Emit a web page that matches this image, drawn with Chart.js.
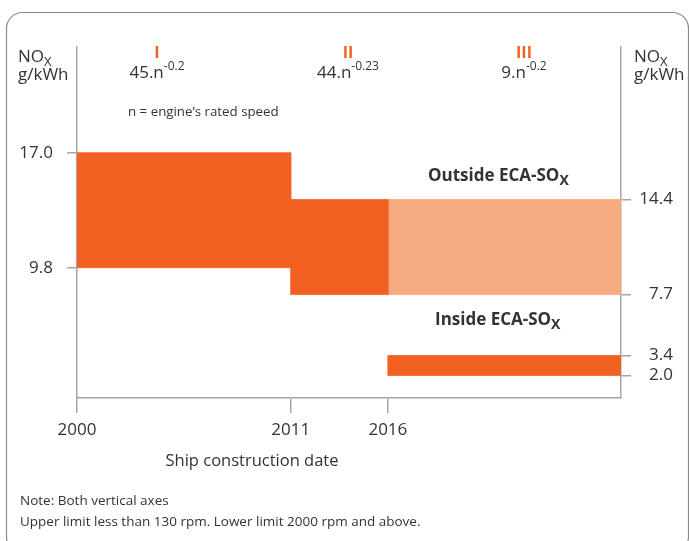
<!DOCTYPE html>
<html>
<head>
<meta charset="utf-8">
<script src="https://cdn.jsdelivr.net/npm/chart.js@4.4.1/dist/chart.umd.min.js"></script>
<style>
  html, body { margin: 0; padding: 0; background: #fff; }
</style>
</head>
<body>
<canvas id="nox" width="689" height="541"></canvas>
<script>
// IMO NOx limits by tier
const tierNames = ['I', 'II', 'III'];
const tierFactor = ['45.n', '44.n', '9.n'];
const tierExp = ['-0.2', '-0.23', '-0.2'];
const tierStart = [2000, 2011, 2016];
const outsideHigh = [17.0, 14.4, 14.4];
const outsideLow = [9.8, 7.7, 7.7];
const insideHigh = [3.4];
const insideLow = [2.0];
const openEnd = 2028;        // bars run on to the right axis
const xTicks = [2000, 2011, 2016];
const leftTicks = [17.0, 9.8];
const rightTicks = [14.4, 7.7, 3.4, 2.0];

const ORANGE = '#f26122';
const LIGHT = '#f6aa7f';
const TEXT = '#333333';
const AXIS = '#a6a6a6';
const FONT = "'Open Sans', sans-serif";

// closed rectangle, filled as a shape
function rect(x0, x1, hi, lo, color, axis) {
  return {
    data: [{ x: x0, y: hi }, { x: x1, y: hi }, { x: x1, y: lo }, { x: x0, y: lo }, { x: x0, y: hi }],
    yAxisID: axis,
    fill: 'shape',
    backgroundColor: color,
    borderColor: color,
    borderWidth: 0.8,
    pointRadius: 0,
    tension: 0
  };
}

const datasets = [
  rect(tierStart[0], tierStart[1], outsideHigh[0], outsideLow[0], ORANGE, 'yL'),
  rect(tierStart[1], tierStart[2], outsideHigh[1], outsideLow[1], ORANGE, 'yR'),
  rect(tierStart[2], openEnd, outsideHigh[2], outsideLow[2], LIGHT, 'yR'),
  rect(tierStart[2], openEnd, insideHigh[0], insideLow[0], ORANGE, 'yR')
];

// draw a run of text pieces (for sub/superscripts)
function rich(ctx, parts, x, y, align) {
  let w = 0;
  parts.forEach(p => { ctx.font = p.font; w += ctx.measureText(p.t).width; });
  let cx = align === 'center' ? x - w / 2 : x;
  ctx.textAlign = 'left';
  ctx.textBaseline = 'alphabetic';
  parts.forEach(p => {
    ctx.font = p.font;
    ctx.fillStyle = p.color || TEXT;
    ctx.fillText(p.t, cx, y + (p.dy || 0));
    cx += ctx.measureText(p.t).width;
  });
}

const noteLines = ['Note: Both vertical axes',
  'Upper limit less than 130 rpm. Lower limit 2000 rpm and above.'];

const decor = {
  id: 'decor',
  beforeDraw(chart) {
    const ctx = chart.ctx;
    ctx.save();
    ctx.strokeStyle = '#8a8a8a';
    ctx.lineWidth = 1.2;
    ctx.beginPath();
    ctx.roundRect(6.5, 12.5, 682, 540, 16);
    ctx.stroke();
    ctx.restore();
  },
  afterDraw(chart) {
    const ctx = chart.ctx;
    ctx.save();
    const big = '17px ' + FONT;
    const sub = '13px ' + FONT;
    const sup = '12px ' + FONT;

    // unit labels on both sides
    [18, 634].forEach(x => {
      rich(ctx, [{ t: 'NO', font: big }, { t: 'X', font: sub, dy: 4 }], x, 62, 'left');
      rich(ctx, [{ t: 'g/kWh', font: big }], x, 80, 'left');
    });

    // tier headings
    const tierX = [157, 348, 524];
    tierNames.forEach((n, i) => {
      rich(ctx, [{ t: n, font: 'bold 16px ' + FONT, color: ORANGE }], tierX[i], 58, 'center');
      rich(ctx, [{ t: tierFactor[i], font: big }, { t: tierExp[i], font: sup, dy: -8 }], tierX[i], 78, 'center');
    });
    rich(ctx, [{ t: 'n = engine\u2019s rated speed', font: '13.3px ' + FONT }], 128, 116, 'left');

    // region labels
    const bold = 'bold 17px ' + FONT;
    const bsub = 'bold 14px ' + FONT;
    rich(ctx, [{ t: 'Outside ECA-SO', font: bold }, { t: 'X', font: bsub, dy: 4 }], 428, 181, 'left');
    rich(ctx, [{ t: 'Inside ECA-SO', font: bold }, { t: 'X', font: bsub, dy: 4 }], 435, 325, 'left');

    // axis title
    rich(ctx, [{ t: 'Ship construction date', font: '16.5px ' + FONT }], 252, 466, 'center');

    // notes
    const note = '13.5px ' + FONT;
    rich(ctx, [{ t: noteLines[0], font: note }], 20, 505, 'left');
    rich(ctx, [{ t: noteLines[1], font: note }], 20, 526, 'left');
    ctx.restore();
  }
};

function fixTicks(values) {
  return scale => { scale.ticks = values.map(v => ({ value: v })); };
}

new Chart(document.getElementById('nox'), {
  type: 'line',
  data: { datasets: datasets },
  plugins: [decor],
  options: {
    responsive: false,
    animation: false,
    events: [],
    layout: { padding: { top: 47, right: 16, left: 0, bottom: 0 } },
    plugins: { legend: { display: false }, tooltip: { enabled: false } },
    scales: {
      x: {
        type: 'linear',
        min: 2000,
        max: openEnd,
        afterBuildTicks: fixTicks(xTicks),
        afterFit: s => { s.height = 143; },
        ticks: { color: TEXT, font: { family: FONT, size: 17 }, padding: 7, maxRotation: 0, autoSkip: false,
                 callback: v => String(v) },
        grid: { drawOnChartArea: false, tickLength: 15, color: AXIS, lineWidth: 1.5 },
        border: { color: AXIS, width: 1.5 }
      },
      yL: {
        type: 'linear',
        position: 'left',
        min: 1.64,
        max: 23.62,
        afterBuildTicks: fixTicks(leftTicks),
        afterFit: s => { s.width = 77; },
        ticks: { color: TEXT, font: { family: FONT, size: 17 }, padding: 14, callback: v => v.toFixed(1) },
        grid: { drawOnChartArea: false, tickLength: 10, color: AXIS, lineWidth: 1.5 },
        border: { color: AXIS, width: 1.5 }
      },
      yR: {
        type: 'linear',
        position: 'right',
        min: 0.405,
        max: 25.16,
        afterBuildTicks: fixTicks(rightTicks),
        afterFit: s => { s.width = 52; },
        ticks: { color: TEXT, font: { family: FONT, size: 17 }, padding: 8, crossAlign: 'far',
                 callback: v => v.toFixed(1) },
        grid: { drawOnChartArea: false, tickLength: 10, color: AXIS, lineWidth: 1.5 },
        border: { color: AXIS, width: 1.5 }
      }
    }
  }
});
</script>
</body>
</html>
